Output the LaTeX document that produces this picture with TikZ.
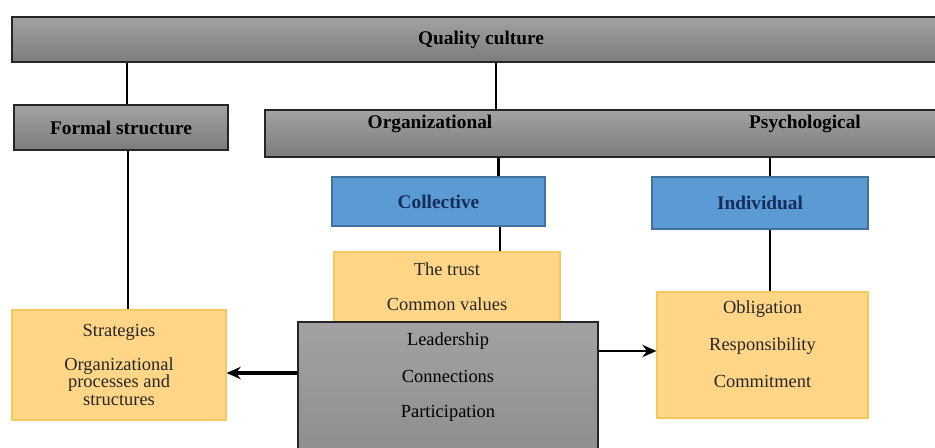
\documentclass[tikz,border=0pt]{standalone}
\usepackage{fontspec}
\setmainfont{Liberation Serif}
\usetikzlibrary{arrows.meta}
\definecolor{boxblue}{RGB}{91,155,213}
\definecolor{blueline}{RGB}{65,113,156}
\definecolor{navytext}{RGB}{22,45,90}
\definecolor{boxyellow}{RGB}{255,214,135}
\definecolor{yellowline}{RGB}{244,200,90}
\definecolor{graytop}{RGB}{162,162,162}
\definecolor{graybot}{RGB}{124,124,124}

\tikzset{
  graybox/.style={draw=black!85, line width=1.1pt, top color=graytop, bottom color=graybot,
    font=\fontsize{11}{13}\selectfont\bfseries},
  bluebox/.style={draw=blueline, fill=boxblue, line width=1pt, text=navytext,
    font=\fontsize{11}{13}\selectfont\bfseries},
  yellowbox/.style={draw=yellowline, fill=boxyellow, line width=0.7pt, align=center,
    text=black!85, font=\fontsize{10.5}{10}\selectfont},
  link/.style={line width=1.3pt}
}

\begin{document}
\begin{tikzpicture}[x=0.02cm,y=-0.02cm]
	\useasboundingbox[fill=white] (0,0) rectangle (935,448);
	
	\node (quality) at (481,39.5) [graybox, minimum width=18.76cm, minimum height=0.9cm] {Quality culture};
	\node (formal) at (121,127.5) [graybox, minimum width=4.28cm, minimum height=0.9cm] {Formal structure};
	\node (orgbar) at (605,133.5) [graybox, minimum width=13.6cm, minimum height=0.94cm] {};
	\node (organizational) at (430,124) [font=\fontsize{11}{13}\selectfont\bfseries] {Organizational};
	\node (psychological) at (805,124) [font=\fontsize{11}{13}\selectfont\bfseries] {Psychological};
	
	\node (collective) at (438.5,201.5) [bluebox, minimum width=4.26cm, minimum height=0.98cm] {Collective};
	\node (individual) at (760,203) [bluebox, minimum width=4.32cm, minimum height=1.04cm] {Individual};
	
	\node (trust) at (447,287) [yellowbox, minimum width=4.52cm, minimum height=1.4cm] {The trust\\[10pt] Common values};
	\node (strategies) at (119,365) [yellowbox, minimum width=4.28cm, minimum height=2.2cm] {Strategies\\[9pt] Organizational\\ processes and\\ structures};
	\node (obligation) at (762.5,355) [yellowbox, minimum width=4.22cm, minimum height=2.52cm] {Obligation\\[11pt] Responsibility\\[11pt] Commitment\\[2pt]};
	
	\node (leader) at (448,387) [graybox, top color=graytop, bottom color=graytop!88!black, minimum width=6cm, minimum height=2.6cm] {};
	\node (leadertext) at (448,377) [align=center, font=\fontsize{10.5}{10}\selectfont] {Leadership\\[11pt] Connections\\[10pt] Participation};
	
	% connectors
	\coordinate (orgin) at (496,110);
	\draw[link] (orgin) -- (orgin |- quality.south);
	\path ([xshift=0.12cm]formal.north) coordinate (f1);
	\draw[link] (f1) -- (f1 |- quality.south);
	\path ([xshift=0.14cm]formal.south) coordinate (f2);
	\draw[link] (f2) -- (f2 |- strategies.north);
	\path ([xshift=1.2cm]collective.north) coordinate (c1);
	\draw[link] (c1) -- (c1 |- orgbar.south);
	\path ([xshift=0.2cm]individual.north) coordinate (i1);
	\draw[link] (i1) -- (i1 |- orgbar.south);
	\path ([xshift=1.06cm]trust.north) coordinate (t1);
	\draw[link] (t1) -- (t1 |- collective.south);
	\path ([xshift=0.15cm]obligation.north) coordinate (o1);
	\draw[link] (o1) -- (o1 |- individual.south);
	
	\path ([yshift=0.28cm]leader.west) coordinate (lw);
	\draw[link, line width=2.2pt, -{Stealth[length=8pt,width=7pt]}] (lw) -- (lw -| strategies.east);
	\path ([yshift=0.72cm]leader.east) coordinate (le);
	\draw[link, -{Stealth[length=8pt,width=7pt]}] (le) -- (le -| obligation.west);
\end{tikzpicture}
\end{document}
